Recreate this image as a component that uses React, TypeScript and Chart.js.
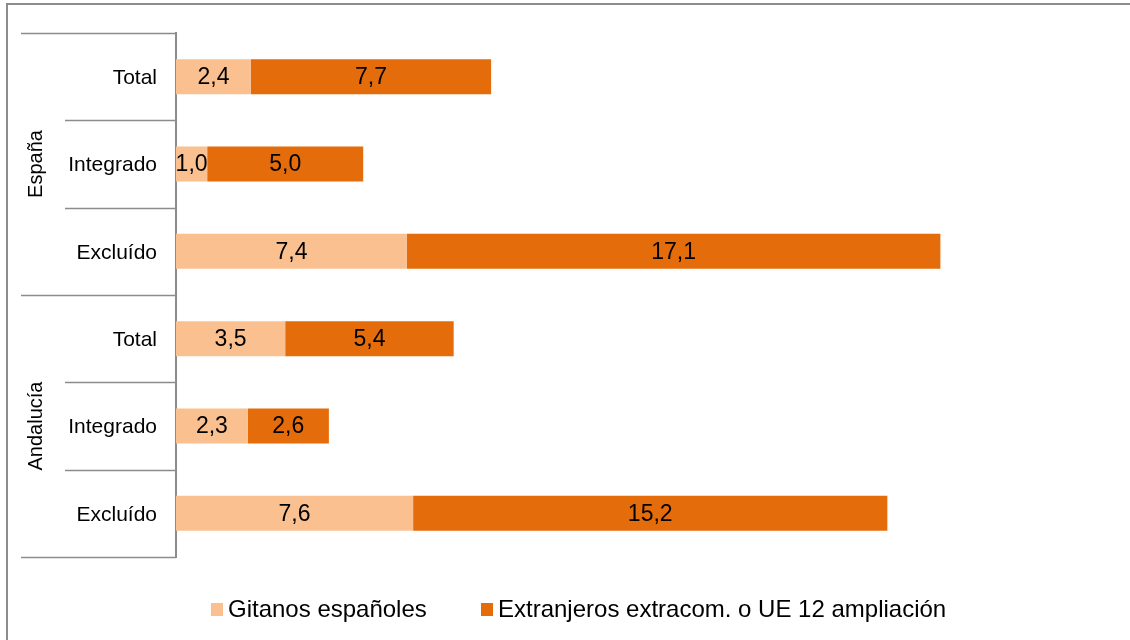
import React, { useEffect, useRef } from "react";
import { Chart, registerables } from "chart.js";

Chart.register(...registerables);

const categories = ["Total", "Integrado", "Excluído", "Total", "Integrado", "Excluído"];
const groups = ["España", "Andalucía"];
const gitanos = [2.4, 1.0, 7.4, 3.5, 2.3, 7.6];
const extranjeros = [7.7, 5.0, 17.1, 5.4, 2.6, 15.2];
const seriesNames = ["Gitanos españoles", "Extranjeros extracom. o UE 12 ampliación"];
const seriesColors = ["#FAC090", "#E46C0A"];

const FONT = "'Liberation Sans', Arial, sans-serif";
const GRAY = "#8c8c8c";

const fmt = (v: number) => v.toFixed(1).replace(".", ",");

const decorPlugin = {
  id: "decor",
  afterDraw(chart: any) {
    const ctx = chart.ctx;
    const area = chart.chartArea;
    const y = chart.scales.y;
    ctx.save();
    // outer frame
    ctx.strokeStyle = GRAY;
    ctx.lineWidth = 2;
    ctx.beginPath();
    ctx.moveTo(7, 640);
    ctx.lineTo(7, 4);
    ctx.lineTo(1130, 4);
    ctx.stroke();

    // category separators
    const step = (y.getPixelForValue(1) - y.getPixelForValue(0));
    ctx.lineWidth = 1.5;
    for (let i = 0; i <= categories.length; i++) {
      const py = Math.round(y.getPixelForValue(i) - step / 2) + 0.5;
      const long = i % 3 === 0;
      ctx.beginPath();
      ctx.moveTo(long ? 21 : 65, py);
      ctx.lineTo(area.left, py);
      ctx.stroke();
    }

    // group labels
    ctx.fillStyle = "#000";
    ctx.font = `20px ${FONT}`;
    ctx.textAlign = "center";
    ctx.textBaseline = "middle";
    groups.forEach((g, gi) => {
      const cy = y.getPixelForValue(gi * 3 + 1);
      ctx.save();
      ctx.translate(36, cy);
      ctx.rotate(-Math.PI / 2);
      ctx.fillText(g, 0, 0);
      ctx.restore();
    });

    // data labels
    ctx.font = `23px ${FONT}`;
    chart.data.datasets.forEach((ds: any, di: number) => {
      const meta = chart.getDatasetMeta(di);
      meta.data.forEach((bar: any, i: number) => {
        const { x, base } = bar.getProps(["x", "base"], true);
        ctx.fillText(fmt(ds.data[i]), (x + base) / 2, bar.y + 1);
      });
    });

    // legend
    ctx.font = `24px ${FONT}`;
    ctx.textAlign = "left";
    const legendY = 609;
    const items = [
      { x: 211, text: seriesNames[0], color: seriesColors[0] },
      { x: 481, text: seriesNames[1], color: seriesColors[1] },
    ];
    items.forEach((it) => {
      ctx.fillStyle = it.color;
      ctx.fillRect(it.x, legendY - 6, 12, 13);
      ctx.fillStyle = "#000";
      ctx.fillText(it.text, it.x + 17, legendY + 1);
    });
    ctx.restore();
  },
};

export default function App() {
  const ref = useRef<HTMLCanvasElement>(null);
  useEffect(() => {
    if (!ref.current) return;
    const chart = new Chart(ref.current, {
      type: "bar",
      data: {
        labels: categories,
        datasets: [
          {
            label: seriesNames[0],
            data: gitanos,
            backgroundColor: seriesColors[0],
            categoryPercentage: 1,
            barPercentage: 0.4,
          },
          {
            label: seriesNames[1],
            data: extranjeros,
            backgroundColor: seriesColors[1],
            categoryPercentage: 1,
            barPercentage: 0.4,
          },
        ],
      },
      options: {
        indexAxis: "y",
        responsive: false,
        animation: false,
        devicePixelRatio: 1,
        layout: { padding: { left: 0, top: 33, right: 18, bottom: 83 } },
        plugins: { legend: { display: false }, tooltip: { enabled: false } },
        scales: {
          x: { stacked: true, min: 0, max: 30, display: false },
          y: {
            stacked: true,
            grid: { display: false, drawTicks: false },
            border: { display: true, color: GRAY, width: 2 },
            ticks: { color: "#000", font: { family: FONT, size: 21 }, padding: 19, labelOffset: 1.5 },
            afterFit: (scale: any) => {
              scale.width = 176;
            },
          },
        },
      },
      plugins: [decorPlugin],
    });
    return () => chart.destroy();
  }, []);
  return (
    <div style={{ position: "absolute", left: 0, top: 0, width: 1130, height: 640, background: "#fff" }}>
      <canvas ref={ref} width={1130} height={640} />
    </div>
  );
}
